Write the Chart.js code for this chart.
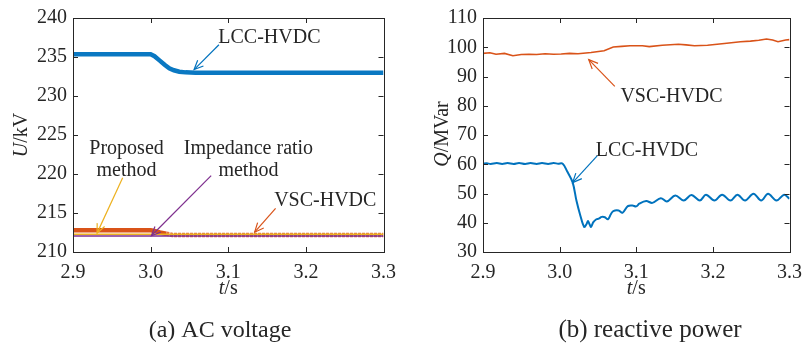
<!DOCTYPE html>
<html>
<head>
<meta charset="utf-8">
<script src="https://cdn.jsdelivr.net/npm/chart.js@4.4.1/dist/chart.umd.min.js"></script>
<style>
  html, body { margin: 0; padding: 0; background: #fff; }
  #wrap { position: relative; width: 811px; height: 344px; }
  canvas { position: absolute; top: 0; }
</style>
</head>
<body>
<div id="wrap">
  <canvas id="chartA" width="405" height="344" style="left:0"></canvas>
  <canvas id="chartB" width="406" height="344" style="left:405px"></canvas>
</div>
<script>
// ---- (a) AC voltage ----
const lccVoltT = [2.9, 3.0, 3.005, 3.011, 3.018, 3.024, 3.03, 3.037, 3.045, 3.058, 3.3];
const lccVoltU = [235.35, 235.35, 235.1, 234.6, 234.0, 233.55, 233.3, 233.12, 233.03, 232.97, 232.97];
const vscVoltT = [2.9, 3.0, 3.005, 3.012, 3.02, 3.028, 3.3];
const vscVoltU = [212.78, 212.78, 212.7, 212.5, 212.35, 212.18, 212.18];
const proposedT = [2.9, 3.3];
const proposedU = [212.27, 212.27];
const impedanceT = [2.9, 3.3];
const impedanceU = [212.05, 212.05];

// ---- (b) reactive power ----
const lccQT = [2.900, 2.905, 2.910, 2.918, 2.925, 2.932, 2.940, 2.947, 2.955, 2.962, 2.970, 2.977, 2.985, 2.992, 2.998, 3.004,
  3.010, 3.017, 3.022, 3.027, 3.032, 3.035, 3.037, 3.039, 3.041, 3.044, 3.048, 3.051, 3.055, 3.059, 3.063, 3.067, 3.070,
  3.077, 3.082, 3.089, 3.095, 3.100, 3.104, 3.113, 3.121, 3.132, 3.140, 3.151, 3.162, 3.172, 3.183, 3.191, 3.202, 3.212,
  3.223, 3.232, 3.242, 3.253, 3.263, 3.272, 3.283, 3.293, 3.300];
const lccQ = [60.2, 60.35, 60.1, 60.4, 60.1, 60.4, 60.1, 60.45, 60.1, 60.4, 60.1, 60.4, 60.1, 60.4, 60.2, 60.2,
  57.5, 53.8, 47.5, 42.5, 38.6, 39.5, 40.6, 39.5, 38.6, 40.2, 41.2, 41.4, 42.0, 41.9, 41.2, 43.0, 44.0,
  44.2, 43.4, 45.7, 45.9, 45.6, 46.5, 47.4, 46.8, 48.4, 47.3, 49.3, 47.6, 49.5, 47.6, 49.6, 47.6, 49.6,
  47.6, 49.6, 47.6, 49.9, 47.6, 49.9, 47.6, 49.6, 48.2];
const vscQT = [2.900, 2.909, 2.917, 2.928, 2.939, 2.950, 2.960, 2.970, 2.981, 2.992, 3.002, 3.013, 3.024, 3.041, 3.058,
  3.070, 3.081, 3.092, 3.108, 3.117, 3.134, 3.155, 3.165, 3.176, 3.193, 3.215, 3.236, 3.249, 3.260, 3.270, 3.278,
  3.285, 3.295, 3.300];
const vscQ = [97.9, 98.1, 97.6, 97.9, 97.1, 97.5, 97.6, 97.5, 97.8, 97.6, 97.7, 97.9, 97.8, 98.2, 98.8,
  100.1, 100.3, 100.5, 100.5, 100.2, 100.7, 101.0, 100.8, 100.5, 100.7, 101.3, 101.9, 102.1, 102.4, 102.8, 102.5,
  101.9, 102.5, 102.6];

const BLUE = '#0072BD', RED = '#D95319', YELLOW = '#EDB120', PURPLE = '#7E2F8E', INK = '#262626';
const FONT = '"Liberation Serif", "Times New Roman", serif';

const pts = (xs, ys) => xs.map((x, i) => ({ x: x, y: ys[i] }));

// annotations in data units
const annoA = {
  texts: [
    { s: 'LCC-HVDC', x: 3.153, y: 237.46 },
    { s: 'Proposed', x: 2.969, y: 223.22 },
    { s: 'method', x: 2.969, y: 220.42 },
    { s: 'Impedance ratio', x: 3.126, y: 223.22 },
    { s: 'method', x: 3.126, y: 220.42 },
    { s: 'VSC-HVDC', x: 3.225, y: 216.61 }
  ],
  arrows: [
    { c: BLUE, x0: 3.088, y0: 236.57, x1: 3.056, y1: 233.39 },
    { c: YELLOW, x0: 2.964, y0: 219.53, x1: 2.931, y1: 212.42 },
    { c: PURPLE, x0: 3.078, y0: 219.79, x1: 3.001, y1: 212.08 },
    { c: RED, x0: 3.161, y0: 215.59, x1: 3.134, y1: 212.54 }
  ]
};
const annoB = {
  texts: [
    { s: 'VSC-HVDC', x: 3.146, y: 83.22 },
    { s: 'LCC-HVDC', x: 3.114, y: 64.58 }
  ],
  arrows: [
    { c: RED, x0: 3.072, y0: 86.61, x1: 3.038, y1: 95.76 },
    { c: BLUE, x0: 3.049, y0: 62.88, x1: 3.017, y1: 53.73 }
  ]
};

function drawArrow(ctx, x0, y0, x1, y1, color) {
  const ang = Math.atan2(y1 - y0, x1 - x0), len = 10, spread = 0.42;
  ctx.strokeStyle = color; ctx.lineWidth = 1.2;
  ctx.beginPath(); ctx.moveTo(x0, y0); ctx.lineTo(x1, y1); ctx.stroke();
  ctx.beginPath();
  ctx.moveTo(x1 - len * Math.cos(ang - spread), y1 - len * Math.sin(ang - spread));
  ctx.lineTo(x1, y1);
  ctx.lineTo(x1 - len * Math.cos(ang + spread), y1 - len * Math.sin(ang + spread));
  ctx.stroke();
}

// draw mixed italic/upright text centred at cx (horizontal, or rotated)
function drawMixed(ctx, parts, cx, cy, rotate) {
  ctx.save();
  ctx.translate(cx, cy);
  if (rotate) ctx.rotate(-Math.PI / 2);
  ctx.textBaseline = 'middle'; ctx.textAlign = 'left'; ctx.fillStyle = INK;
  let total = 0;
  parts.forEach(p => { ctx.font = (p.it ? 'italic ' : '') + '20px ' + FONT; total += ctx.measureText(p.s).width; });
  let x = -total / 2;
  parts.forEach(p => {
    ctx.font = (p.it ? 'italic ' : '') + '20px ' + FONT;
    ctx.fillText(p.s, x, 0);
    x += ctx.measureText(p.s).width;
  });
  ctx.restore();
}

const framePlugin = {
  id: 'frame',
  afterDraw(chart, args, opts) {
    const { ctx, chartArea: a, scales: { x, y } } = chart;
    ctx.save();
    ctx.strokeStyle = INK; ctx.lineWidth = 1;
    ctx.strokeRect(Math.round(a.left) + 0.5, Math.round(a.top) + 0.5, Math.round(a.right - a.left), Math.round(a.bottom - a.top));
    const tl = 5;
    ctx.beginPath();
    x.ticks.forEach(t => {
      const px = Math.round(x.getPixelForValue(t.value)) + 0.5;
      ctx.moveTo(px, a.bottom); ctx.lineTo(px, a.bottom - tl);
      ctx.moveTo(px, a.top); ctx.lineTo(px, a.top + tl);
    });
    y.ticks.forEach(t => {
      const py = Math.round(y.getPixelForValue(t.value)) + 0.5;
      ctx.moveTo(a.left, py); ctx.lineTo(a.left + tl, py);
      ctx.moveTo(a.right, py); ctx.lineTo(a.right - tl, py);
    });
    ctx.stroke();

    // annotations
    ctx.font = '20px ' + FONT; ctx.fillStyle = INK; ctx.textAlign = 'center'; ctx.textBaseline = 'middle';
    opts.anno.texts.forEach(t => ctx.fillText(t.s, x.getPixelForValue(t.x), y.getPixelForValue(t.y)));
    opts.anno.arrows.forEach(r => drawArrow(ctx,
      x.getPixelForValue(r.x0), y.getPixelForValue(r.y0),
      x.getPixelForValue(r.x1), y.getPixelForValue(r.y1), r.c));

    // axis titles
    drawMixed(ctx, opts.yTitle, opts.yTitleX, (a.top + a.bottom) / 2 + opts.yTitleDy, true);
    drawMixed(ctx, [{ s: 't', it: true }, { s: '/s' }], (a.left + a.right) / 2, a.bottom + 37, false);

    // caption
    ctx.font = opts.capSize + 'px ' + FONT; ctx.fillStyle = INK; ctx.textAlign = 'center'; ctx.textBaseline = 'alphabetic';
    ctx.fillText(opts.caption, opts.capX, 337);
    ctx.restore();
  }
};

function makeOptions(yMin, yMax, yStep, yWidth, padRight, frameOpts) {
  return {
    responsive: false,
    animation: false,
    devicePixelRatio: 1,
    layout: { padding: { top: 16, right: padRight, left: 0, bottom: 0 } },
    plugins: { legend: { display: false }, tooltip: { enabled: false }, frame: frameOpts },
    elements: { point: { radius: 0 } },
    scales: {
      x: {
        type: 'linear', min: 2.9, max: 3.3,
        grid: { display: false, drawTicks: false }, border: { display: false },
        ticks: { stepSize: 0.1, padding: 9, color: INK, font: { family: FONT, size: 20 }, maxRotation: 0,
                 callback: v => v.toFixed(1) },
        afterFit: s => { s.height = 92; }
      },
      y: {
        type: 'linear', min: yMin, max: yMax,
        grid: { display: false, drawTicks: false }, border: { display: false },
        ticks: { stepSize: yStep, padding: 6, color: INK, font: { family: FONT, size: 20 } },
        afterFit: s => { s.width = yWidth; }
      }
    }
  };
}

new Chart(document.getElementById('chartA'), {
  type: 'line',
  data: {
    datasets: [
      { data: pts(impedanceT, impedanceU), borderColor: PURPLE, borderWidth: 1.6 },
      { data: pts(proposedT, proposedU), borderColor: YELLOW, borderWidth: 1.4 },
      { data: pts(vscVoltT, vscVoltU), borderColor: RED, borderWidth: 4.5,
        segment: {
          borderColor: c => c.p0.parsed.x >= 3.02 ? 'rgba(222,90,40,0.85)' : undefined,
          borderDash: c => c.p0.parsed.x >= 3.02 ? [3, 1] : undefined
        } },
      { data: pts(lccVoltT, lccVoltU), borderColor: '#0a78c2', borderWidth: 4.5 }
    ]
  },
  options: makeOptions(210, 240, 5, 73, 19, {
    anno: annoA, caption: '(a) AC voltage', capX: 220, capSize: 24,
    yTitle: [{ s: 'U', it: true }, { s: '/kV' }], yTitleX: 22, yTitleDy: 0
  }),
  plugins: [framePlugin]
});

new Chart(document.getElementById('chartB'), {
  type: 'line',
  data: {
    datasets: [
      { data: pts(vscQT, vscQ), borderColor: RED, borderWidth: 1.6 },
      { data: pts(lccQT, lccQ), borderColor: BLUE, borderWidth: 2, tension: 0.35 }
    ]
  },
  options: makeOptions(30, 110, 10, 78, 14, {
    anno: annoB, caption: '(b) reactive power', capX: 245, capSize: 25,
    yTitle: [{ s: 'Q', it: true }, { s: '/MVar' }], yTitleX: 38, yTitleDy: -1
  }),
  plugins: [framePlugin]
});
</script>
</body>
</html>
